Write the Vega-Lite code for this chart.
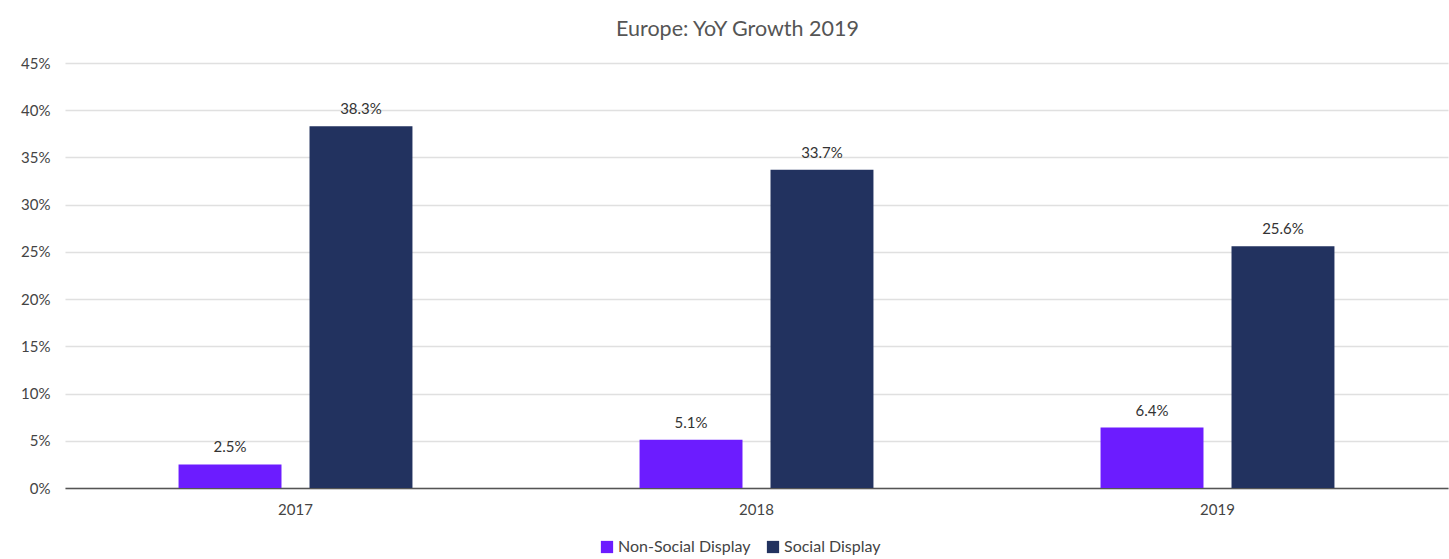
{
  "$schema": "https://vega.github.io/schema/vega-lite/v6.json",
  "width": 1383,
  "height": 425,
  "autosize": {"type": "none"},
  "padding": {"left": 65, "top": 63, "right": 1, "bottom": 71},
  "background": "white",
  "config": {
    "view": {"stroke": null},
    "font": "Lato"
  },
  "title": {
    "text": "Europe: YoY Growth 2019",
    "anchor": "middle",
    "fontSize": 21.5,
    "fontWeight": "normal",
    "color": "#555555",
    "font": "Lato",
    "offset": 16,
    "dx": -19
  },
  "data": {
    "values": [
      {"year": "2017", "series": "Non-Social Display", "growth": 0.025},
      {"year": "2017", "series": "Social Display", "growth": 0.383},
      {"year": "2018", "series": "Non-Social Display", "growth": 0.051},
      {"year": "2018", "series": "Social Display", "growth": 0.337},
      {"year": "2019", "series": "Non-Social Display", "growth": 0.064},
      {"year": "2019", "series": "Social Display", "growth": 0.256}
    ]
  },
  "encoding": {
    "x": {
      "field": "year",
      "type": "nominal",
      "scale": {"paddingInner": 0, "paddingOuter": 0},
      "axis": {
        "title": null,
        "labelAngle": 0,
        "ticks": false,
        "domainColor": "#555555",
        "domainWidth": 1.5,
        "labelFontSize": 15,
        "labelColor": "#444444",
        "labelPadding": 14,
        "grid": false
      }
    },
    "xOffset": {
      "field": "series",
      "type": "nominal",
      "scale": {"paddingInner": 0.214, "paddingOuter": 0.867}
    },
    "y": {
      "field": "growth",
      "type": "quantitative",
      "scale": {"domain": [0, 0.45]},
      "axis": {
        "title": null,
        "format": ".0%",
        "values": [0, 0.05, 0.1, 0.15, 0.2, 0.25, 0.3, 0.35, 0.4, 0.45],
        "domain": false,
        "ticks": false,
        "gridColor": "#e0e0e0",
        "gridWidth": 1.5,
        "labelFontSize": 15,
        "labelColor": "#444444",
        "labelPadding": 15
      }
    }
  },
  "layer": [
    {
      "mark": {"type": "bar"},
      "encoding": {
        "color": {
          "field": "series",
          "type": "nominal",
          "scale": {"domain": ["Non-Social Display", "Social Display"], "range": ["#6c1cff", "#22325f"]},
          "legend": {
            "title": null,
            "orient": "none",
            "legendX": 534,
            "legendY": 476,
            "direction": "horizontal",
            "symbolType": "square",
            "symbolSize": 150,
            "symbolStrokeWidth": 0,
            "labelFontSize": 16,
            "labelColor": "#444444",
            "columnPadding": 14,
            "labelOffset": 3
          }
        }
      }
    },
    {
      "mark": {"type": "text", "baseline": "bottom", "dy": -9, "fontSize": 15, "color": "#333333"},
      "encoding": {
        "text": {"field": "growth", "type": "quantitative", "format": ".1%"}
      }
    }
  ]
}
